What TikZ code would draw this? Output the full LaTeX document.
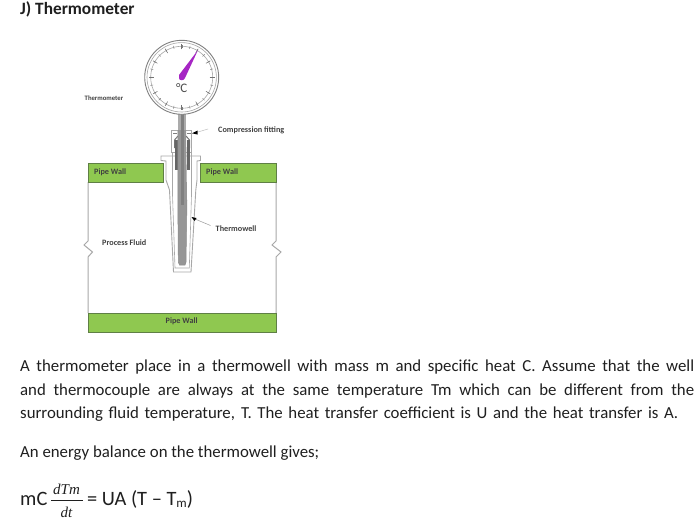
\documentclass[tikz,border=0pt]{standalone}
\usepackage{fontspec}
\setmainfont{Carlito}
\newfontfamily\eqserif{Liberation Serif}
\usetikzlibrary{arrows.meta,calc}
\definecolor{wallgreen}{HTML}{8FC850}
\definecolor{wallline}{HTML}{5F7F45}
\definecolor{ink}{HTML}{1F1F1F}
\definecolor{greyline}{HTML}{A8A8A8}
\definecolor{sheath}{HTML}{969696}
\definecolor{needle}{HTML}{A626C4}
\tikzset{
  wall/.style={draw=wallline,fill=wallgreen,line width=0.8pt},
  tag/.style={font=\bfseries\fontsize{8.2}{10}\selectfont,text=ink!85,inner sep=0pt,anchor=west},
  bodyline/.style={font=\fontsize{16.8}{20}\selectfont,text=ink,inner sep=0pt,anchor=base west},
  pipeline/.style={draw=greyline,line width=1pt},
  wellline/.style={draw=greyline,line width=0.9pt},
  leader/.style={draw=gray!50,line width=0.5pt},
  thread/.style={draw=none,fill=black!60},
}
\begin{document}
\begin{tikzpicture}[x=1pt,y=-1pt]
\useasboundingbox (0,0) rectangle (700,523);
\fill[white] (0,0) rectangle (700,523);
% pipe side lines
\draw[pipeline] (88,182) -- (88,241) -- (84,245) -- (92.5,252) -- (88,257) -- (88,313);
\draw[pipeline] (276,182) -- (276,241) -- (272,245) -- (281,252) -- (276,257) -- (276,313);
% walls
\draw[wall] (88,163) rectangle (163,182);
\draw[wall] (200,163) rectangle (276,182);
\draw[wall] (88,313) rectangle (276,332);
% thermowell
\draw[wellline,fill=white] (161,156) -- (200.5,156) -- (200.5,160.5) -- (197,161) -- (197,180)
  -- (195.8,190) -- (191,272) -- (173.5,272) -- (169.5,190) -- (166,180) -- (166,161) -- (161,160.5) -- cycle;
\draw[wellline,line width=0.6pt] (172.5,152) -- (172.5,195) -- (175,268) -- (189.3,268) -- (191.5,195) -- (191.5,152);
% fitting
\draw[wellline] (171.5,130) rectangle (191.5,152);
\draw[draw=black!50,line width=0.9pt] (173,133) -- (177,133) (191,133) -- (186.5,133);
\draw[draw=black!55,line width=1pt] (174.5,148) -- (174.5,140) -- (178,136) (189.5,148) -- (189.5,140) -- (186,136);
% threads
\fill[thread] (174.5,140) rectangle (177.5,170);
\fill[thread] (186.5,140) rectangle (190,170);
% stem and sheath
\fill[sheath!80!white] (178,113) -- (186,113) -- (186,130) -- (178,130) -- cycle;
\fill[sheath] (178,130) -- (177.8,200) -- (178.3,262) -- (179.5,265) -- (185,265) -- (186,262) -- (187,200) -- (186,130) -- cycle;
\draw[draw=black!45,line width=0.5pt] (178,130) -- (177.8,200) -- (178.3,262) -- (179.5,265) -- (185,265) -- (186,262) -- (187,200);
\fill[black!50] (180.5,113) rectangle (183.5,205);
% gauge
\draw[draw=black!50,line width=0.9pt,fill=white] (181.7,77.3) circle (37);
\draw[draw=black!35,line width=0.6pt] (181.7,77.3) circle (34.7);
\draw[draw=black!35,line width=0.6pt] (181.7,77.3) circle (31);
\foreach \a in {0,15,...,345}{
  \draw[draw=black!50,line width=0.4pt] ($(181.7,77.3)+(\a:29.5)$) -- ($(181.7,77.3)+(\a:32.5)$);
}
\foreach \a in {0,30,...,330}{
  \draw[draw=black!55,line width=0.5pt] ($(181.7,77.3)+(\a:28)$) -- ($(181.7,77.3)+(\a:33)$);
}
\fill[fill=needle] (179,75) -- (198,50) -- (185,78) .. controls (184,81) and (179,81) .. (179,78) -- cycle;
\node[inner sep=0pt,font=\fontsize{13}{15}\selectfont,text=black!70] (deg) at (181.7,88.5) {°C};
% labels
\node[tag,font=\bfseries\fontsize{6.7}{8}\selectfont] (thermo) at (84.5,98) {Thermometer};
\node[tag] (comp) at (218,130) {Compression fitting};
\node[tag] (wallL) at (94,172) {Pipe Wall};
\node[tag] (wallR) at (206,172) {Pipe Wall};
\node[tag] (well) at (215.5,228.5) {Thermowell};
\node[tag] (fluid) at (102,243) {Process Fluid};
\node[tag] (wallB) at (165.5,321) {Pipe Wall};
% leaders
\draw[leader] (comp.west) ++(-10,-1) -- ++(-10,3);
\fill[black] (192,133.3) -- (197.5,130.5) -- (197.5,134.5) -- cycle;
\draw[leader,draw=gray!80] (well.west) ++(-5,-3) -- (195,219);
\fill[black] (191.5,217) -- (196.5,218) -- (194.5,221) -- cycle;
% text
\node[font=\bfseries\fontsize{17.3}{20}\selectfont,text=ink,inner sep=0pt,anchor=base west] (title) at (20,14) {J) Thermometer};
\node[bodyline] (p1) at (20,371) {\makebox[674pt][s]{A thermometer place in a thermowell with mass m and specific heat C. Assume that the well}};
\node[bodyline] (p2) at (20,395) {\makebox[674pt][s]{and thermocouple are always at the same temperature Tm which can be different from the}};
\node[bodyline] (p3) at (20,418) {\makebox[658pt][s]{surrounding fluid temperature, T. The heat transfer coefficient is U and the heat transfer is A.}};
\node[bodyline] (p4) at (20,457) {An energy balance on the thermowell gives;};
\node[inner sep=0pt,anchor=base west,font=\fontsize{20.4}{22}\selectfont,text=ink] (mc) at (20,505) {mC};
\node[inner sep=0pt,anchor=base,font=\eqserif\itshape\fontsize{15}{17}\selectfont,text=ink] (num) at (66.5,494) {dTm};
\node[inner sep=0pt,anchor=base,font=\eqserif\itshape\fontsize{15}{17}\selectfont,text=ink] (den) at (66.5,517) {dt};
\draw[draw=ink,line width=0.7pt] (51,500) -- (83,500);
\node[inner sep=0pt,anchor=base west,font=\fontsize{20.4}{22}\selectfont,text=ink] (rhs) at (87,505) {= UA (T – T\raisebox{-2.5pt}{\fontsize{13}{15}\selectfont m})};
\end{tikzpicture}
\end{document}
